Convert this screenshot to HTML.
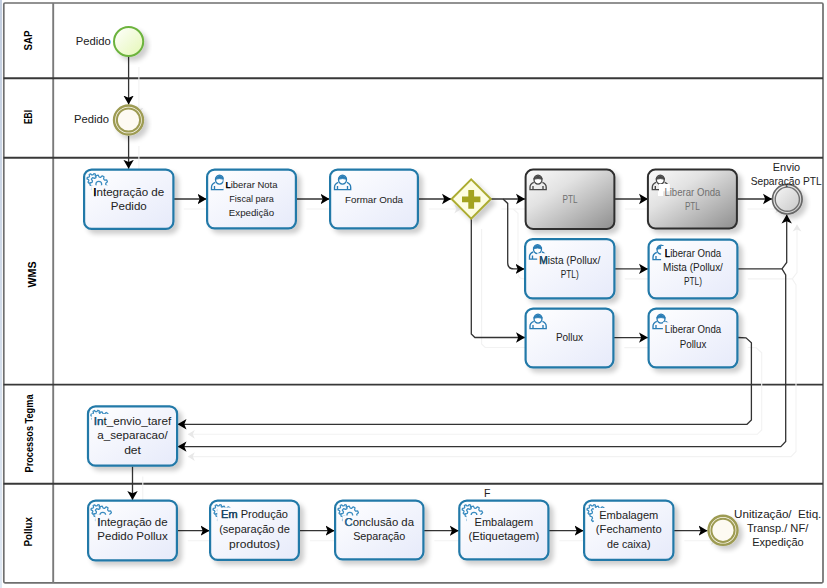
<!DOCTYPE html>
<html><head><meta charset="utf-8"><style>
html,body{margin:0;padding:0;background:#fff;width:827px;height:588px;overflow:hidden}
svg{display:block}
text{font-family:"Liberation Sans", sans-serif;}
</style></head><body>
<svg width="827" height="588" viewBox="0 0 827 588">
<defs>
<linearGradient id="gb" x1="0" y1="0" x2="1" y2="1"><stop offset="0" stop-color="#ffffff"/><stop offset="1" stop-color="#e6eafa"/></linearGradient>
<linearGradient id="gg" x1="0" y1="0" x2="1" y2="1"><stop offset="0" stop-color="#fbfbfb"/><stop offset="0.35" stop-color="#e2e2e2"/><stop offset="1" stop-color="#8e8e8e"/></linearGradient>
<linearGradient id="gs" x1="0" y1="0" x2="1" y2="1"><stop offset="0" stop-color="#ffffff"/><stop offset="1" stop-color="#e4f7b4"/></linearGradient>
<linearGradient id="ge" x1="0" y1="0" x2="1" y2="1"><stop offset="0" stop-color="#fafafa"/><stop offset="1" stop-color="#c4c4c4"/></linearGradient>
<filter id="sh" x="-20%" y="-20%" width="150%" height="150%"><feGaussianBlur in="SourceAlpha" stdDeviation="2.8"/><feOffset dx="4.2" dy="4.2" result="b"/><feComponentTransfer in="b" result="c"><feFuncA type="linear" slope="0.2"/></feComponentTransfer><feMerge><feMergeNode in="c"/><feMergeNode in="SourceGraphic"/></feMerge></filter>
<marker id="ar" viewBox="0 0 12 12" refX="9" refY="6" markerWidth="12" markerHeight="12" markerUnits="userSpaceOnUse" orient="auto"><path d="M0,0.8 L9,6 L0,11.2 L2.2,6 z" fill="#000"/></marker>
<marker id="arg" viewBox="0 0 12 12" refX="7" refY="6" markerWidth="12" markerHeight="12" markerUnits="userSpaceOnUse" orient="auto"><path d="M0,1.6 L7,6 L0,10.4 L2,6 z" fill="#e8e8e8"/></marker>
</defs>

<linearGradient id="gstrip" x1="0" y1="0" x2="0" y2="1"><stop offset="0" stop-color="#c3cee0"/><stop offset="1" stop-color="#dfe8f3"/></linearGradient><rect x="0" y="0" width="2" height="588" fill="url(#gstrip)"/>
<rect x="3.8" y="3" width="819.2" height="579.8" rx="1.2" fill="#fff" stroke="#6f6f6f" stroke-width="1.7"/>
<line x1="53.2" y1="3" x2="53.2" y2="583" stroke="#7a7a7a" stroke-width="1.9"/>
<line x1="3.5" y1="78.3" x2="823" y2="78.3" stroke="#383838" stroke-width="1.9"/>
<line x1="3.5" y1="157.7" x2="823" y2="157.7" stroke="#383838" stroke-width="1.9"/>
<line x1="3.5" y1="384.6" x2="823" y2="384.6" stroke="#383838" stroke-width="1.9"/>
<line x1="3.5" y1="483.7" x2="823" y2="483.7" stroke="#383838" stroke-width="1.9"/>
<text transform="translate(28.5,40.5) rotate(-90)" text-anchor="middle" font-size="10" font-weight="bold" fill="#000" dy="3.5" textLength="20" lengthAdjust="spacingAndGlyphs">SAP</text>
<text transform="translate(28.5,117) rotate(-90)" text-anchor="middle" font-size="10" font-weight="bold" fill="#000" dy="3.5" textLength="14" lengthAdjust="spacingAndGlyphs">EBI</text>
<text transform="translate(32,274.5) rotate(-90)" text-anchor="middle" font-size="10" font-weight="bold" fill="#000" dy="3.5" textLength="26" lengthAdjust="spacingAndGlyphs">WMS</text>
<text transform="translate(29.3,433.5) rotate(-90)" text-anchor="middle" font-size="10" font-weight="bold" fill="#000" dy="3.5" textLength="78" lengthAdjust="spacingAndGlyphs">Processos Tegma</text>
<text transform="translate(28.5,531.7) rotate(-90)" text-anchor="middle" font-size="10" font-weight="bold" fill="#000" dy="3.5" textLength="29.5" lengthAdjust="spacingAndGlyphs">Pollux</text>
<g transform="translate(10.3,10)">
<path d="M128.6,57 L128.6,104.5" fill="none" stroke="#f2f2f2" stroke-width="1.1" marker-end="url(#arg)"/>
<path d="M128.6,136 L128.6,168.8" fill="none" stroke="#f2f2f2" stroke-width="1.1" marker-end="url(#arg)"/>
<path d="M173.5,199.0 L206.5,199.0" fill="none" stroke="#f2f2f2" stroke-width="1.1" marker-end="url(#arg)"/>
<path d="M296,199.0 L329.5,199.0" fill="none" stroke="#f2f2f2" stroke-width="1.1" marker-end="url(#arg)"/>
<path d="M418.5,199.0 L451,199.0" fill="none" stroke="#f2f2f2" stroke-width="1.1" marker-end="url(#arg)"/>
<path d="M491,199.0 L525,199.0" fill="none" stroke="#f2f2f2" stroke-width="1.1" marker-end="url(#arg)"/>
<path d="M503,199.1 L507.7,203.4 L507.7,262.8 Q507.7,268.9 513.8,268.9 L524.5,268.9" fill="none" stroke="#f2f2f2" stroke-width="1.1" marker-end="url(#arg)"/>
<path d="M471.3,219 L471.3,334 L474.9,337.5 L525,337.5" fill="none" stroke="#f2f2f2" stroke-width="1.1" marker-end="url(#arg)"/>
<path d="M614.5,199.0 L648,199.0" fill="none" stroke="#f2f2f2" stroke-width="1.1" marker-end="url(#arg)"/>
<path d="M737,199.0 L772,199.0" fill="none" stroke="#f2f2f2" stroke-width="1.1" marker-end="url(#arg)"/>
<path d="M614.5,268.9 L648,268.9" fill="none" stroke="#f2f2f2" stroke-width="1.1" marker-end="url(#arg)"/>
<path d="M737.5,268.9 L782,268.9 L786.7,262.5 L786.7,214.5" fill="none" stroke="#f2f2f2" stroke-width="1.1" marker-end="url(#arg)"/>
<path d="M782,268.9 L785.7,275 L785.7,441.5 L780.8,446.6 L177.5,446.6" fill="none" stroke="#f2f2f2" stroke-width="1.1" marker-end="url(#arg)"/>
<path d="M614,337.6 L648,337.6" fill="none" stroke="#f2f2f2" stroke-width="1.1" marker-end="url(#arg)"/>
<path d="M737.5,337.5 L746,337.8 L751.4,342.8 L751.4,420 L747,424.3 L177.5,424.3" fill="none" stroke="#f2f2f2" stroke-width="1.1" marker-end="url(#arg)"/>
<path d="M132.5,466.5 L132.5,500" fill="none" stroke="#f2f2f2" stroke-width="1.1" marker-end="url(#arg)"/>
<path d="M177.5,530.7 L209.5,530.7" fill="none" stroke="#f2f2f2" stroke-width="1.1" marker-end="url(#arg)"/>
<path d="M299.5,530.7 L334.5,530.7" fill="none" stroke="#f2f2f2" stroke-width="1.1" marker-end="url(#arg)"/>
<path d="M424,530.7 L458.7,530.7" fill="none" stroke="#f2f2f2" stroke-width="1.1" marker-end="url(#arg)"/>
<path d="M549,530.7 L583.5,530.7" fill="none" stroke="#f2f2f2" stroke-width="1.1" marker-end="url(#arg)"/>
<path d="M674,530.7 L707.5,530.7" fill="none" stroke="#f2f2f2" stroke-width="1.1" marker-end="url(#arg)"/>
</g>
<path d="M128.6,57 L128.6,104.5" fill="none" stroke="#333" stroke-width="1.3" marker-end="url(#ar)"/>
<path d="M128.6,136 L128.6,168.8" fill="none" stroke="#333" stroke-width="1.3" marker-end="url(#ar)"/>
<path d="M173.5,199.0 L206.5,199.0" fill="none" stroke="#333" stroke-width="1.3" marker-end="url(#ar)"/>
<path d="M296,199.0 L329.5,199.0" fill="none" stroke="#333" stroke-width="1.3" marker-end="url(#ar)"/>
<path d="M418.5,199.0 L451,199.0" fill="none" stroke="#333" stroke-width="1.3" marker-end="url(#ar)"/>
<path d="M491,199.0 L525,199.0" fill="none" stroke="#333" stroke-width="1.3" marker-end="url(#ar)"/>
<path d="M503,199.1 L507.7,203.4 L507.7,262.8 Q507.7,268.9 513.8,268.9 L524.5,268.9" fill="none" stroke="#333" stroke-width="1.3" marker-end="url(#ar)"/>
<path d="M471.3,219 L471.3,334 L474.9,337.5 L525,337.5" fill="none" stroke="#333" stroke-width="1.3" marker-end="url(#ar)"/>
<path d="M614.5,199.0 L648,199.0" fill="none" stroke="#333" stroke-width="1.3" marker-end="url(#ar)"/>
<path d="M737,199.0 L772,199.0" fill="none" stroke="#333" stroke-width="1.3" marker-end="url(#ar)"/>
<path d="M614.5,268.9 L648,268.9" fill="none" stroke="#333" stroke-width="1.3" marker-end="url(#ar)"/>
<path d="M737.5,268.9 L782,268.9 L786.7,262.5 L786.7,214.5" fill="none" stroke="#333" stroke-width="1.3" marker-end="url(#ar)"/>
<path d="M782,268.9 L785.7,275 L785.7,441.5 L780.8,446.6 L177.5,446.6" fill="none" stroke="#333" stroke-width="1.3" marker-end="url(#ar)"/>
<path d="M614,337.6 L648,337.6" fill="none" stroke="#333" stroke-width="1.3" marker-end="url(#ar)"/>
<path d="M737.5,337.5 L746,337.8 L751.4,342.8 L751.4,420 L747,424.3 L177.5,424.3" fill="none" stroke="#333" stroke-width="1.3" marker-end="url(#ar)"/>
<path d="M132.5,466.5 L132.5,500" fill="none" stroke="#333" stroke-width="1.3" marker-end="url(#ar)"/>
<path d="M177.5,530.7 L209.5,530.7" fill="none" stroke="#333" stroke-width="1.3" marker-end="url(#ar)"/>
<path d="M299.5,530.7 L334.5,530.7" fill="none" stroke="#333" stroke-width="1.3" marker-end="url(#ar)"/>
<path d="M424,530.7 L458.7,530.7" fill="none" stroke="#333" stroke-width="1.3" marker-end="url(#ar)"/>
<path d="M549,530.7 L583.5,530.7" fill="none" stroke="#333" stroke-width="1.3" marker-end="url(#ar)"/>
<path d="M674,530.7 L707.5,530.7" fill="none" stroke="#333" stroke-width="1.3" marker-end="url(#ar)"/>
<rect x="84.1" y="169.6" width="89.30000000000001" height="59.30000000000001" rx="7.5" fill="url(#gb)" stroke="#2279a8" stroke-width="2.2" filter="url(#sh)"/><clipPath id="tc1"><path clip-rule="evenodd" d="M79.1,164.6 L178.4,164.6 L178.4,233.9 L79.1,233.9 Z M91.2,185.2 L166.2,185.2 L166.2,213.5 L91.2,213.5 Z"/></clipPath><g clip-path="url(#tc1)"><clipPath id="gc1"><rect x="82.8" y="167.79999999999998" width="26" height="32"/></clipPath><g clip-path="url(#gc1)" fill="none" stroke="#3a8cc0" stroke-width="1.25" stroke-linejoin="round"><path d="M96.52,180.21 L97.61,181.49 L96.70,182.81 L95.12,182.24 L94.09,182.82 L93.78,184.48 L92.18,184.58 L91.64,182.99 L90.55,182.55 L89.05,183.33 L87.97,182.15 L88.88,180.73 L88.55,179.61 L87.00,178.93 L87.25,177.35 L88.93,177.17 L89.60,176.21 L89.16,174.58 L90.56,173.79 L91.74,174.99 L92.91,174.91 L93.92,173.56 L95.40,174.15 L95.20,175.83 L95.99,176.69 L97.68,176.63 L98.14,178.17 L96.70,179.05 Z"/><path d="M105.77,184.70 L107.47,185.99 L106.82,187.86 L104.68,187.81 L103.69,189.01 L104.16,191.10 L102.46,192.11 L100.85,190.69 L99.32,190.98 L98.35,192.89 L96.39,192.57 L96.07,190.45 L94.71,189.68 L92.74,190.52 L91.45,189.01 L92.57,187.19 L92.02,185.73 L89.97,185.10 L89.94,183.11 L91.98,182.43 L92.49,180.96 L91.33,179.16 L92.59,177.63 L94.58,178.41 L95.92,177.62 L96.19,175.49 L98.14,175.12 L99.16,177.01 L100.70,177.26 L102.27,175.80 L104.00,176.78 L103.57,178.87 L104.58,180.06 L106.72,179.95 L107.43,181.81 L105.75,183.14 Z" fill="#fcfcfe"/><circle cx="98.8" cy="184.2" r="2.9"/></g></g><text x="128.75" y="196.0" text-anchor="middle" font-size="11.5" fill="#222" textLength="71" lengthAdjust="spacingAndGlyphs">Integração de</text><text x="128.75" y="209.5" text-anchor="middle" font-size="11.5" fill="#222" textLength="36" lengthAdjust="spacingAndGlyphs">Pedido</text><text x="93.25" y="196" font-size="11.5" fill="#000" stroke="#000" stroke-width="0.25" textLength="3.23" lengthAdjust="spacingAndGlyphs">I</text>
<rect x="207.1" y="169.6" width="88.79999999999998" height="58.80000000000001" rx="7.5" fill="url(#gb)" stroke="#2279a8" stroke-width="2.2" filter="url(#sh)"/><clipPath id="tc2"><path clip-rule="evenodd" d="M202.1,164.6 L300.9,164.6 L300.9,233.4 L202.1,233.4 Z M223.5,177.5 L279.5,177.5 L279.5,220.3 L223.5,220.3 Z"/></clipPath><g clip-path="url(#tc2)"><g transform="translate(210.9,174.4)" fill="none" stroke="#2a7db5" stroke-width="1.35"><path d="M4.4,8 q-3.8,1.4 -3.8,4.8 l0,2.4 l16.2,0 l0,-2.4 q0,-3.4 -3.8,-4.8"/><path d="M3.6,11.6 l0,3.6 M13.6,11.6 l0,3.6"/><ellipse cx="8.6" cy="5.2" rx="4.0" ry="4.5" fill="#fff"/><path d="M4.5,3.8 q4.1,-5 8.2,0 l-0.2,1.0 q-3.9,-1.3 -7.8,0 z" fill="#2a7db5" stroke-width="0.9"/></g></g><text x="251.5" y="188.3" text-anchor="middle" font-size="9.6" fill="#222" textLength="52" lengthAdjust="spacingAndGlyphs">Liberar Nota</text><text x="251.5" y="202.3" text-anchor="middle" font-size="9.6" fill="#222" textLength="44.5" lengthAdjust="spacingAndGlyphs">Fiscal para</text><text x="251.5" y="216.3" text-anchor="middle" font-size="9.6" fill="#222" textLength="45.3" lengthAdjust="spacingAndGlyphs">Expedição</text><text x="225.50" y="188.3" font-size="9.6" fill="#000" stroke="#000" stroke-width="0.25" textLength="5.26" lengthAdjust="spacingAndGlyphs">L</text>
<rect x="330.1" y="169.6" width="87.79999999999995" height="58.80000000000001" rx="7.5" fill="url(#gb)" stroke="#2279a8" stroke-width="2.2" filter="url(#sh)"/><clipPath id="tc3"><path clip-rule="evenodd" d="M325.1,164.6 L422.9,164.6 L422.9,233.4 L325.1,233.4 Z M343.0,191.7 L405.0,191.7 L405.0,206.5 L343.0,206.5 Z"/></clipPath><g clip-path="url(#tc3)"><g transform="translate(333.90000000000003,174.4)" fill="none" stroke="#2a7db5" stroke-width="1.35"><path d="M4.4,8 q-3.8,1.4 -3.8,4.8 l0,2.4 l16.2,0 l0,-2.4 q0,-3.4 -3.8,-4.8"/><path d="M3.6,11.6 l0,3.6 M13.6,11.6 l0,3.6"/><ellipse cx="8.6" cy="5.2" rx="4.0" ry="4.5" fill="#fff"/><path d="M4.5,3.8 q4.1,-5 8.2,0 l-0.2,1.0 q-3.9,-1.3 -7.8,0 z" fill="#2a7db5" stroke-width="0.9"/></g></g><text x="374.0" y="202.5" text-anchor="middle" font-size="9.8" fill="#222" textLength="58" lengthAdjust="spacingAndGlyphs">Formar Onda</text>
<rect x="525.6" y="169.6" width="88.79999999999995" height="59.30000000000001" rx="7.5" fill="url(#gg)" stroke="#2e2e2e" stroke-width="2" filter="url(#sh)"/><clipPath id="tc4"><path clip-rule="evenodd" d="M520.6,164.6 L619.4,164.6 L619.4,233.9 L520.6,233.9 Z M560.5,192.0 L579.5,192.0 L579.5,206.8 L560.5,206.8 Z"/></clipPath><g clip-path="url(#tc4)"><g transform="translate(529.4,174.4)" fill="none" stroke="#484848" stroke-width="1.35"><path d="M4.4,8 q-3.8,1.4 -3.8,4.8 l0,2.4 l16.2,0 l0,-2.4 q0,-3.4 -3.8,-4.8"/><path d="M3.6,11.6 l0,3.6 M13.6,11.6 l0,3.6"/><ellipse cx="8.6" cy="5.2" rx="4.0" ry="4.5" fill="#fff"/><path d="M4.5,3.8 q4.1,-5 8.2,0 l-0.2,1.0 q-3.9,-1.3 -7.8,0 z" fill="#484848" stroke-width="0.9"/></g></g><text x="570.0" y="202.8" text-anchor="middle" font-size="10.5" fill="#707070" textLength="15" lengthAdjust="spacingAndGlyphs">PTL</text>
<rect x="647.9" y="169.6" width="89.0" height="58.80000000000001" rx="7.5" fill="url(#gg)" stroke="#2e2e2e" stroke-width="2" filter="url(#sh)"/><clipPath id="tc5"><path clip-rule="evenodd" d="M642.9,164.6 L741.9,164.6 L741.9,233.4 L642.9,233.4 Z M662.4,184.8 L722.4,184.8 L722.4,213.6 L662.4,213.6 Z"/></clipPath><g clip-path="url(#tc5)"><g transform="translate(651.6999999999999,174.4)" fill="none" stroke="#484848" stroke-width="1.35"><path d="M4.4,8 q-3.8,1.4 -3.8,4.8 l0,2.4 l16.2,0 l0,-2.4 q0,-3.4 -3.8,-4.8"/><path d="M3.6,11.6 l0,3.6 M13.6,11.6 l0,3.6"/><ellipse cx="8.6" cy="5.2" rx="4.0" ry="4.5" fill="#fff"/><path d="M4.5,3.8 q4.1,-5 8.2,0 l-0.2,1.0 q-3.9,-1.3 -7.8,0 z" fill="#484848" stroke-width="0.9"/></g></g><path d="M659,184 L669.8,184 L669.8,191.2 L663,191.2 L663,196 L658,196 L658,191.2 L659,191.2 z" fill="#fff"/><text x="692.4" y="195.6" text-anchor="middle" font-size="10.3" fill="#707070" textLength="56" lengthAdjust="spacingAndGlyphs">Liberar Onda</text><text x="692.4" y="209.6" text-anchor="middle" font-size="10.3" fill="#707070" textLength="15" lengthAdjust="spacingAndGlyphs">PTL</text>
<rect x="525.1" y="239.1" width="89.29999999999995" height="59.29999999999998" rx="7.5" fill="url(#gb)" stroke="#2279a8" stroke-width="2.2" filter="url(#sh)"/><clipPath id="tc6"><path clip-rule="evenodd" d="M520.1,234.1 L619.4,234.1 L619.4,303.4 L520.1,303.4 Z M537.2,253.2 L602.2,253.2 L602.2,282.0 L537.2,282.0 Z"/></clipPath><g clip-path="url(#tc6)"><g transform="translate(528.9,243.9)" fill="none" stroke="#2a7db5" stroke-width="1.35"><path d="M4.4,8 q-3.8,1.4 -3.8,4.8 l0,2.4 l16.2,0 l0,-2.4 q0,-3.4 -3.8,-4.8"/><path d="M3.6,11.6 l0,3.6 M13.6,11.6 l0,3.6"/><ellipse cx="8.6" cy="5.2" rx="4.0" ry="4.5" fill="#fff"/><path d="M4.5,3.8 q4.1,-5 8.2,0 l-0.2,1.0 q-3.9,-1.3 -7.8,0 z" fill="#2a7db5" stroke-width="0.9"/></g></g><text x="569.75" y="264" text-anchor="middle" font-size="10" fill="#222" textLength="61" lengthAdjust="spacingAndGlyphs">Mista (Pollux/</text><text x="569.75" y="278" text-anchor="middle" font-size="10" fill="#222" textLength="18" lengthAdjust="spacingAndGlyphs">PTL)</text><text x="539.25" y="264" font-size="10" fill="#1d4f73" stroke="#1d4f73" stroke-width="0.25" textLength="8.47" lengthAdjust="spacingAndGlyphs">M</text>
<rect x="648.6" y="239.6" width="88.79999999999995" height="58.79999999999998" rx="7.5" fill="url(#gb)" stroke="#2279a8" stroke-width="2.2" filter="url(#sh)"/><clipPath id="tc7"><path clip-rule="evenodd" d="M643.6,234.6 L742.4,234.6 L742.4,303.4 L643.6,303.4 Z M661.1,245.9 L724.9,245.9 L724.9,289.1 L661.1,289.1 Z"/></clipPath><g clip-path="url(#tc7)"><g transform="translate(652.4,244.4)" fill="none" stroke="#2a7db5" stroke-width="1.35"><path d="M4.4,8 q-3.8,1.4 -3.8,4.8 l0,2.4 l16.2,0 l0,-2.4 q0,-3.4 -3.8,-4.8"/><path d="M3.6,11.6 l0,3.6 M13.6,11.6 l0,3.6"/><ellipse cx="8.6" cy="5.2" rx="4.0" ry="4.5" fill="#fff"/><path d="M4.5,3.8 q4.1,-5 8.2,0 l-0.2,1.0 q-3.9,-1.3 -7.8,0 z" fill="#2a7db5" stroke-width="0.9"/></g></g><text x="693.0" y="256.7" text-anchor="middle" font-size="10" fill="#222" textLength="56.3" lengthAdjust="spacingAndGlyphs">Liberar Onda</text><text x="693.0" y="270.9" text-anchor="middle" font-size="10" fill="#222" textLength="59.8" lengthAdjust="spacingAndGlyphs">Mista (Pollux/</text><text x="693.0" y="285.09999999999997" text-anchor="middle" font-size="10" fill="#222" textLength="18" lengthAdjust="spacingAndGlyphs">PTL)</text><text x="664.85" y="256.7" font-size="10" fill="#000" stroke="#000" stroke-width="0.25" textLength="5.36" lengthAdjust="spacingAndGlyphs">L</text>
<rect x="525.6" y="308.6" width="87.79999999999995" height="58.799999999999955" rx="7.5" fill="url(#gb)" stroke="#2279a8" stroke-width="2.2" filter="url(#sh)"/><clipPath id="tc8"><path clip-rule="evenodd" d="M520.6,303.6 L618.4,303.6 L618.4,372.4 L520.6,372.4 Z M553.9,329.8 L585.1,329.8 L585.1,344.6 L553.9,344.6 Z"/></clipPath><g clip-path="url(#tc8)"><g transform="translate(529.4,313.40000000000003)" fill="none" stroke="#2a7db5" stroke-width="1.35"><path d="M4.4,8 q-3.8,1.4 -3.8,4.8 l0,2.4 l16.2,0 l0,-2.4 q0,-3.4 -3.8,-4.8"/><path d="M3.6,11.6 l0,3.6 M13.6,11.6 l0,3.6"/><ellipse cx="8.6" cy="5.2" rx="4.0" ry="4.5" fill="#fff"/><path d="M4.5,3.8 q4.1,-5 8.2,0 l-0.2,1.0 q-3.9,-1.3 -7.8,0 z" fill="#2a7db5" stroke-width="0.9"/></g></g><text x="569.5" y="340.6" text-anchor="middle" font-size="10" fill="#222">Pollux</text>
<rect x="648.6" y="308.6" width="88.79999999999995" height="58.799999999999955" rx="7.5" fill="url(#gb)" stroke="#2279a8" stroke-width="2.2" filter="url(#sh)"/><clipPath id="tc9"><path clip-rule="evenodd" d="M643.6,303.6 L742.4,303.6 L742.4,372.4 L643.6,372.4 Z M662.9,322.2 L723.1,322.2 L723.1,352.0 L662.9,352.0 Z"/></clipPath><g clip-path="url(#tc9)"><g transform="translate(652.4,313.40000000000003)" fill="none" stroke="#2a7db5" stroke-width="1.35"><path d="M4.4,8 q-3.8,1.4 -3.8,4.8 l0,2.4 l16.2,0 l0,-2.4 q0,-3.4 -3.8,-4.8"/><path d="M3.6,11.6 l0,3.6 M13.6,11.6 l0,3.6"/><ellipse cx="8.6" cy="5.2" rx="4.0" ry="4.5" fill="#fff"/><path d="M4.5,3.8 q4.1,-5 8.2,0 l-0.2,1.0 q-3.9,-1.3 -7.8,0 z" fill="#2a7db5" stroke-width="0.9"/></g></g><text x="693.0" y="333" text-anchor="middle" font-size="10" fill="#222" textLength="56.3" lengthAdjust="spacingAndGlyphs">Liberar Onda</text><text x="693.0" y="348" text-anchor="middle" font-size="10" fill="#222" textLength="26.7" lengthAdjust="spacingAndGlyphs">Pollux</text>
<rect x="88.0" y="406.3" width="89.1" height="59.39999999999998" rx="7.5" fill="url(#gb)" stroke="#2279a8" stroke-width="2.2" filter="url(#sh)"/><clipPath id="tc10"><path clip-rule="evenodd" d="M83.0,401.3 L182.1,401.3 L182.1,470.7 L83.0,470.7 Z M91.8,414.0 L173.3,414.0 L173.3,457.8 L91.8,457.8 Z"/></clipPath><g clip-path="url(#tc10)"><clipPath id="gc2"><rect x="86.7" y="404.5" width="26" height="32"/></clipPath><g clip-path="url(#gc2)" fill="none" stroke="#3a8cc0" stroke-width="1.25" stroke-linejoin="round"><path d="M100.42,416.91 L101.51,418.19 L100.60,419.51 L99.02,418.94 L97.99,419.52 L97.68,421.18 L96.08,421.28 L95.54,419.69 L94.45,419.25 L92.95,420.03 L91.87,418.85 L92.78,417.43 L92.45,416.31 L90.90,415.63 L91.15,414.05 L92.83,413.87 L93.50,412.91 L93.06,411.28 L94.46,410.49 L95.64,411.69 L96.81,411.61 L97.82,410.26 L99.30,410.85 L99.10,412.53 L99.89,413.39 L101.58,413.33 L102.04,414.87 L100.60,415.75 Z"/><path d="M109.67,421.40 L111.37,422.69 L110.72,424.56 L108.58,424.51 L107.59,425.71 L108.06,427.80 L106.36,428.81 L104.75,427.39 L103.22,427.68 L102.25,429.59 L100.29,429.27 L99.97,427.15 L98.61,426.38 L96.64,427.22 L95.35,425.71 L96.47,423.89 L95.92,422.43 L93.87,421.80 L93.84,419.81 L95.88,419.13 L96.39,417.66 L95.23,415.86 L96.49,414.33 L98.48,415.11 L99.82,414.32 L100.09,412.19 L102.04,411.82 L103.06,413.71 L104.60,413.96 L106.17,412.50 L107.90,413.48 L107.47,415.57 L108.48,416.76 L110.62,416.65 L111.33,418.51 L109.65,419.84 Z" fill="#fcfcfe"/><circle cx="102.7" cy="420.9" r="2.9"/></g></g><text x="132.55" y="424.8" text-anchor="middle" font-size="11.5" fill="#222" textLength="77.5" lengthAdjust="spacingAndGlyphs">Int_envio_taref</text><text x="132.55" y="439.3" text-anchor="middle" font-size="11.5" fill="#222" textLength="70.5" lengthAdjust="spacingAndGlyphs">a_separacao/</text><text x="132.55" y="453.8" text-anchor="middle" font-size="11.5" fill="#222" textLength="16.8" lengthAdjust="spacingAndGlyphs">det</text><text x="93.80" y="424.8" font-size="11.5" fill="#1f5f8f" stroke="#1f5f8f" stroke-width="0.25" textLength="9.77" lengthAdjust="spacingAndGlyphs">In</text>
<rect x="88.1" y="500.6" width="88.80000000000001" height="59.799999999999955" rx="7.5" fill="url(#gb)" stroke="#2279a8" stroke-width="2.2" filter="url(#sh)"/><clipPath id="tc11"><path clip-rule="evenodd" d="M83.1,495.6 L181.9,495.6 L181.9,565.4 L83.1,565.4 Z M95.3,514.8 L169.7,514.8 L169.7,544.0 L95.3,544.0 Z"/></clipPath><g clip-path="url(#tc11)"><clipPath id="gc3"><rect x="86.8" y="498.8" width="26" height="32"/></clipPath><g clip-path="url(#gc3)" fill="none" stroke="#3a8cc0" stroke-width="1.25" stroke-linejoin="round"><path d="M100.52,511.21 L101.61,512.49 L100.70,513.81 L99.12,513.24 L98.09,513.82 L97.78,515.48 L96.18,515.58 L95.64,513.99 L94.55,513.55 L93.05,514.33 L91.97,513.15 L92.88,511.73 L92.55,510.61 L91.00,509.93 L91.25,508.35 L92.93,508.17 L93.60,507.21 L93.16,505.58 L94.56,504.79 L95.74,505.99 L96.91,505.91 L97.92,504.56 L99.40,505.15 L99.20,506.83 L99.99,507.69 L101.68,507.63 L102.14,509.17 L100.70,510.05 Z"/><path d="M109.77,515.70 L111.47,516.99 L110.82,518.86 L108.68,518.81 L107.69,520.01 L108.16,522.10 L106.46,523.11 L104.85,521.69 L103.32,521.98 L102.35,523.89 L100.39,523.57 L100.07,521.45 L98.71,520.68 L96.74,521.52 L95.45,520.01 L96.57,518.19 L96.02,516.73 L93.97,516.10 L93.94,514.11 L95.98,513.43 L96.49,511.96 L95.33,510.16 L96.59,508.63 L98.58,509.41 L99.92,508.62 L100.19,506.49 L102.14,506.12 L103.16,508.01 L104.70,508.26 L106.27,506.80 L108.00,507.78 L107.57,509.87 L108.58,511.06 L110.72,510.95 L111.43,512.81 L109.75,514.14 Z" fill="#fcfcfe"/><circle cx="102.8" cy="515.2" r="2.9"/></g></g><text x="132.5" y="525.6" text-anchor="middle" font-size="11.5" fill="#222">Integração de</text><text x="132.5" y="540.0" text-anchor="middle" font-size="11.5" fill="#222">Pedido Pollux</text><text x="97.34" y="525.6" font-size="11.5" fill="#1a3f5c" stroke="#1a3f5c" stroke-width="0.25" textLength="3.19" lengthAdjust="spacingAndGlyphs">I</text>
<rect x="210.1" y="500.6" width="88.79999999999998" height="59.299999999999955" rx="7.5" fill="url(#gb)" stroke="#2279a8" stroke-width="2.2" filter="url(#sh)"/><clipPath id="tc12"><path clip-rule="evenodd" d="M205.1,495.6 L303.9,495.6 L303.9,564.9 L205.1,564.9 Z M217.2,507.5 L291.9,507.5 L291.9,551.9 L217.2,551.9 Z"/></clipPath><g clip-path="url(#tc12)"><clipPath id="gc4"><rect x="208.79999999999998" y="498.8" width="26" height="32"/></clipPath><g clip-path="url(#gc4)" fill="none" stroke="#3a8cc0" stroke-width="1.25" stroke-linejoin="round"><path d="M222.52,511.21 L223.61,512.49 L222.70,513.81 L221.12,513.24 L220.09,513.82 L219.78,515.48 L218.18,515.58 L217.64,513.99 L216.55,513.55 L215.05,514.33 L213.97,513.15 L214.88,511.73 L214.55,510.61 L213.00,509.93 L213.25,508.35 L214.93,508.17 L215.60,507.21 L215.16,505.58 L216.56,504.79 L217.74,505.99 L218.91,505.91 L219.92,504.56 L221.40,505.15 L221.20,506.83 L221.99,507.69 L223.68,507.63 L224.14,509.17 L222.70,510.05 Z"/><path d="M231.77,515.70 L233.47,516.99 L232.82,518.86 L230.68,518.81 L229.69,520.01 L230.16,522.10 L228.46,523.11 L226.85,521.69 L225.32,521.98 L224.35,523.89 L222.39,523.57 L222.07,521.45 L220.71,520.68 L218.74,521.52 L217.45,520.01 L218.57,518.19 L218.02,516.73 L215.97,516.10 L215.94,514.11 L217.98,513.43 L218.49,511.96 L217.33,510.16 L218.59,508.63 L220.58,509.41 L221.92,508.62 L222.19,506.49 L224.14,506.12 L225.16,508.01 L226.70,508.26 L228.27,506.80 L230.00,507.78 L229.57,509.87 L230.58,511.06 L232.72,510.95 L233.43,512.81 L231.75,514.14 Z" fill="#fcfcfe"/><circle cx="224.79999999999998" cy="515.2" r="2.9"/></g></g><text x="254.5" y="518.3" text-anchor="middle" font-size="11.5" fill="#222" textLength="67" lengthAdjust="spacingAndGlyphs">Em Produção</text><text x="254.5" y="533.0999999999999" text-anchor="middle" font-size="11.5" fill="#222" textLength="70.7" lengthAdjust="spacingAndGlyphs">(separação de</text><text x="254.5" y="547.9" text-anchor="middle" font-size="11.5" fill="#222" textLength="50.8" lengthAdjust="spacingAndGlyphs">produtos)</text><text x="221.00" y="518.3" font-size="11.5" fill="#1b4a6e" stroke="#1b4a6e" stroke-width="0.25" textLength="16.59" lengthAdjust="spacingAndGlyphs">Em</text>
<rect x="335.1" y="500.6" width="88.29999999999995" height="58.799999999999955" rx="7.5" fill="url(#gb)" stroke="#2279a8" stroke-width="2.2" filter="url(#sh)"/><clipPath id="tc13"><path clip-rule="evenodd" d="M330.1,495.6 L428.4,495.6 L428.4,564.4 L330.1,564.4 Z M342.5,515.4 L416.0,515.4 L416.0,544.3 L342.5,544.3 Z"/></clipPath><g clip-path="url(#tc13)"><clipPath id="gc5"><rect x="333.8" y="498.8" width="26" height="32"/></clipPath><g clip-path="url(#gc5)" fill="none" stroke="#3a8cc0" stroke-width="1.25" stroke-linejoin="round"><path d="M347.52,511.21 L348.61,512.49 L347.70,513.81 L346.12,513.24 L345.09,513.82 L344.78,515.48 L343.18,515.58 L342.64,513.99 L341.55,513.55 L340.05,514.33 L338.97,513.15 L339.88,511.73 L339.55,510.61 L338.00,509.93 L338.25,508.35 L339.93,508.17 L340.60,507.21 L340.16,505.58 L341.56,504.79 L342.74,505.99 L343.91,505.91 L344.92,504.56 L346.40,505.15 L346.20,506.83 L346.99,507.69 L348.68,507.63 L349.14,509.17 L347.70,510.05 Z"/><path d="M356.77,515.70 L358.47,516.99 L357.82,518.86 L355.68,518.81 L354.69,520.01 L355.16,522.10 L353.46,523.11 L351.85,521.69 L350.32,521.98 L349.35,523.89 L347.39,523.57 L347.07,521.45 L345.71,520.68 L343.74,521.52 L342.45,520.01 L343.57,518.19 L343.02,516.73 L340.97,516.10 L340.94,514.11 L342.98,513.43 L343.49,511.96 L342.33,510.16 L343.59,508.63 L345.58,509.41 L346.92,508.62 L347.19,506.49 L349.14,506.12 L350.16,508.01 L351.70,508.26 L353.27,506.80 L355.00,507.78 L354.57,509.87 L355.58,511.06 L357.72,510.95 L358.43,512.81 L356.75,514.14 Z" fill="#fcfcfe"/><circle cx="349.8" cy="515.2" r="2.9"/></g></g><text x="379.25" y="526.2" text-anchor="middle" font-size="11.5" fill="#222" textLength="69.5" lengthAdjust="spacingAndGlyphs">Conclusão da</text><text x="379.25" y="540.3000000000001" text-anchor="middle" font-size="11.5" fill="#222" textLength="52.2" lengthAdjust="spacingAndGlyphs">Separação</text><text x="344.50" y="526.2" font-size="11.5" fill="#2a6f9f" stroke="#2a6f9f" stroke-width="0.25" textLength="8.21" lengthAdjust="spacingAndGlyphs">C</text>
<rect x="459.3" y="500.6" width="89.09999999999997" height="58.799999999999955" rx="7.5" fill="url(#gb)" stroke="#2279a8" stroke-width="2.2" filter="url(#sh)"/><clipPath id="tc14"><path clip-rule="evenodd" d="M454.3,495.6 L553.4,495.6 L553.4,564.4 L454.3,564.4 Z M466.5,515.0 L541.2,515.0 L541.2,544.1 L466.5,544.1 Z"/></clipPath><g clip-path="url(#tc14)"><clipPath id="gc6"><rect x="458.0" y="498.8" width="26" height="32"/></clipPath><g clip-path="url(#gc6)" fill="none" stroke="#3a8cc0" stroke-width="1.25" stroke-linejoin="round"><path d="M471.72,511.21 L472.81,512.49 L471.90,513.81 L470.32,513.24 L469.29,513.82 L468.98,515.48 L467.38,515.58 L466.84,513.99 L465.75,513.55 L464.25,514.33 L463.17,513.15 L464.08,511.73 L463.75,510.61 L462.20,509.93 L462.45,508.35 L464.13,508.17 L464.80,507.21 L464.36,505.58 L465.76,504.79 L466.94,505.99 L468.11,505.91 L469.12,504.56 L470.60,505.15 L470.40,506.83 L471.19,507.69 L472.88,507.63 L473.34,509.17 L471.90,510.05 Z"/><path d="M480.97,515.70 L482.67,516.99 L482.02,518.86 L479.88,518.81 L478.89,520.01 L479.36,522.10 L477.66,523.11 L476.05,521.69 L474.52,521.98 L473.55,523.89 L471.59,523.57 L471.27,521.45 L469.91,520.68 L467.94,521.52 L466.65,520.01 L467.77,518.19 L467.22,516.73 L465.17,516.10 L465.14,514.11 L467.18,513.43 L467.69,511.96 L466.53,510.16 L467.79,508.63 L469.78,509.41 L471.12,508.62 L471.39,506.49 L473.34,506.12 L474.36,508.01 L475.90,508.26 L477.47,506.80 L479.20,507.78 L478.77,509.87 L479.78,511.06 L481.92,510.95 L482.63,512.81 L480.95,514.14 Z" fill="#fcfcfe"/><circle cx="474.0" cy="515.2" r="2.9"/></g></g><text x="503.85" y="525.8" text-anchor="middle" font-size="11.5" fill="#222" textLength="58.5" lengthAdjust="spacingAndGlyphs">Embalagem</text><text x="503.85" y="540.0999999999999" text-anchor="middle" font-size="11.5" fill="#222" textLength="70.8" lengthAdjust="spacingAndGlyphs">(Etiquetagem)</text>
<rect x="584.1" y="500.6" width="89.29999999999995" height="59.299999999999955" rx="7.5" fill="url(#gb)" stroke="#2279a8" stroke-width="2.2" filter="url(#sh)"/><clipPath id="tc15"><path clip-rule="evenodd" d="M579.1,495.6 L678.4,495.6 L678.4,564.9 L579.1,564.9 Z M593.9,507.9 L663.6,507.9 L663.6,551.9 L593.9,551.9 Z"/></clipPath><g clip-path="url(#tc15)"><clipPath id="gc7"><rect x="582.8000000000001" y="498.8" width="26" height="32"/></clipPath><g clip-path="url(#gc7)" fill="none" stroke="#3a8cc0" stroke-width="1.25" stroke-linejoin="round"><path d="M596.52,511.21 L597.61,512.49 L596.70,513.81 L595.12,513.24 L594.09,513.82 L593.78,515.48 L592.18,515.58 L591.64,513.99 L590.55,513.55 L589.05,514.33 L587.97,513.15 L588.88,511.73 L588.55,510.61 L587.00,509.93 L587.25,508.35 L588.93,508.17 L589.60,507.21 L589.16,505.58 L590.56,504.79 L591.74,505.99 L592.91,505.91 L593.92,504.56 L595.40,505.15 L595.20,506.83 L595.99,507.69 L597.68,507.63 L598.14,509.17 L596.70,510.05 Z"/><path d="M605.77,515.70 L607.47,516.99 L606.82,518.86 L604.68,518.81 L603.69,520.01 L604.16,522.10 L602.46,523.11 L600.85,521.69 L599.32,521.98 L598.35,523.89 L596.39,523.57 L596.07,521.45 L594.71,520.68 L592.74,521.52 L591.45,520.01 L592.57,518.19 L592.02,516.73 L589.97,516.10 L589.94,514.11 L591.98,513.43 L592.49,511.96 L591.33,510.16 L592.59,508.63 L594.58,509.41 L595.92,508.62 L596.19,506.49 L598.14,506.12 L599.16,508.01 L600.70,508.26 L602.27,506.80 L604.00,507.78 L603.57,509.87 L604.58,511.06 L606.72,510.95 L607.43,512.81 L605.75,514.14 Z" fill="#fcfcfe"/><circle cx="598.8000000000001" cy="515.2" r="2.9"/></g></g><text x="628.75" y="518.7" text-anchor="middle" font-size="11.5" fill="#222" textLength="59" lengthAdjust="spacingAndGlyphs">Embalagem</text><text x="628.75" y="533.3000000000001" text-anchor="middle" font-size="11.5" fill="#222" textLength="65.8" lengthAdjust="spacingAndGlyphs">(Fechamento</text><text x="628.75" y="547.9000000000001" text-anchor="middle" font-size="11.5" fill="#222" textLength="43.4" lengthAdjust="spacingAndGlyphs">de caixa)</text>
<g filter="url(#sh)"><path d="M471.2,179.4 L490.8,199 L471.2,218.6 L451.6,199 z" fill="#fdfde2" stroke="#acac30" stroke-width="2"/></g>
<path d="M462,199.3 L480.4,199.3 M471.2,190 L471.2,208.8" stroke="#a3a31f" stroke-width="5.8"/>
<g filter="url(#sh)"><circle cx="128.6" cy="41.5" r="14.6" fill="url(#gs)" stroke="#6cb33e" stroke-width="2"/></g>
<g filter="url(#sh)"><circle cx="128.5" cy="120" r="14.5" fill="#fdfaf2" stroke="#9d9b52" stroke-width="2.4"/></g><circle cx="128.5" cy="120" r="11.6" fill="none" stroke="#9d9b52" stroke-width="2"/>
<g filter="url(#sh)"><circle cx="787.3" cy="199.2" r="14.8" fill="url(#ge)" stroke="#666" stroke-width="1.7"/></g><circle cx="787.3" cy="199.2" r="12.1" fill="none" stroke="#707070" stroke-width="1.4"/>
<g filter="url(#sh)"><circle cx="723" cy="530.3" r="14.5" fill="#fdfaf2" stroke="#9d9b52" stroke-width="2.4"/></g><circle cx="723" cy="530.3" r="11.6" fill="none" stroke="#9d9b52" stroke-width="2"/>
<text x="93.2" y="44.8" text-anchor="middle" font-size="11.3" fill="#222" textLength="35" lengthAdjust="spacingAndGlyphs">Pedido</text>
<text x="91.5" y="123.3" text-anchor="middle" font-size="11.3" fill="#222" textLength="35" lengthAdjust="spacingAndGlyphs">Pedido</text>
<text x="786.5" y="171.3" text-anchor="middle" font-size="11" fill="#222" textLength="27.3" lengthAdjust="spacingAndGlyphs">Envio</text>
<text x="786.2" y="185.3" text-anchor="middle" font-size="11" fill="#222" textLength="71" lengthAdjust="spacingAndGlyphs">Separação PTL</text>
<text x="777.7" y="518.1" text-anchor="middle" font-size="11" fill="#222" textLength="87.3" lengthAdjust="spacingAndGlyphs">Unitização/&#160; Etiq.</text>
<text x="777.6" y="532.3" text-anchor="middle" font-size="11" fill="#222" textLength="61.4" lengthAdjust="spacingAndGlyphs">Transp./ NF/</text>
<text x="778" y="546" text-anchor="middle" font-size="11" fill="#222" textLength="51.5" lengthAdjust="spacingAndGlyphs">Expedição</text>
<text x="487.2" y="497.2" text-anchor="middle" font-size="10.5" fill="#222">F</text>
</svg></body></html>
